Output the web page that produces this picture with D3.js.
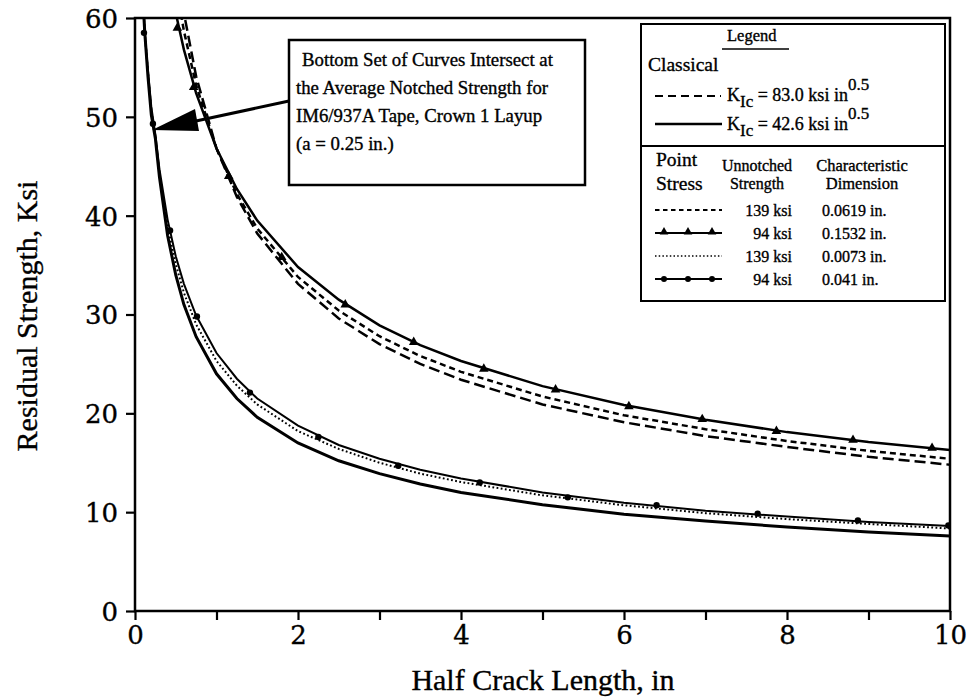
<!DOCTYPE html>
<html>
<head>
<meta charset="utf-8">
<script src="https://cdn.jsdelivr.net/npm/d3@7"></script>
<style>
  body { margin: 0; background: #fff; }
  text { font-family: "Liberation Serif", "Times New Roman", serif; fill: #000;
         stroke: #000; stroke-width: 0.35px; }
</style>
</head>
<body>
<div id="chart"></div>
<script>
// upper group (a in inches)
const crackA = [0.5, 0.6, 0.75, 1, 1.25, 1.5, 2, 2.5, 3, 3.5, 4, 5, 6, 7, 8, 9, 10];
const classical83 = [66.2, 60.5, 54.1, 46.8, 41.9, 38.2, 33.1, 29.6, 27.0, 25.0, 23.4, 20.9, 19.1, 17.7, 16.6, 15.6, 14.8];
const ps139a = [63.4, 58.7, 53.2, 46.8, 42.2, 38.7, 33.8, 30.4, 27.8, 25.8, 24.2, 21.7, 19.8, 18.4, 17.2, 16.2, 15.4];
const ps94a = [60.5, 56.8, 52.4, 46.8, 42.7, 39.5, 34.8, 31.5, 28.9, 26.9, 25.3, 22.75, 20.85, 19.35, 18.1, 17.1, 16.3];

// lower group
const crackB = [0.1, 0.12, 0.16, 0.2, 0.25, 0.3, 0.4, 0.5, 0.6, 0.75, 1, 1.25, 1.5, 2, 2.5, 3, 3.5, 4, 5, 6, 7, 8, 9, 10];
const classical426 = [61.5, 58.5, 54.0, 50.2, 47.8, 43.9, 38.0, 34.0, 31.0, 27.75, 24.0, 21.5, 19.6, 17.0, 15.2, 13.9, 12.85, 12.0, 10.75, 9.8, 9.1, 8.5, 8.0, 7.6];
const ps139b = [61.5, 58.5, 54.4, 50.6, 48.0, 44.2, 38.9, 35.1, 32.2, 29.0, 25.3, 22.8, 20.9, 18.2, 16.4, 15.0, 13.9, 13.05, 11.7, 10.7, 9.9, 9.3, 8.8, 8.35];
const ps94b = [61.5, 58.5, 54.6, 51.0, 48.2, 44.7, 39.6, 35.9, 33.1, 29.9, 26.1, 23.5, 21.5, 18.75, 16.8, 15.4, 14.3, 13.4, 12.0, 10.95, 10.15, 9.55, 9.0, 8.6];

// marker points
const triX = [0.52, 0.72, 1.15, 1.8, 2.58, 3.42, 4.28, 5.16, 6.06, 6.96, 7.87, 8.81, 9.78];
const triY = [59.0, 53.0, 44.0, 35.8, 31.0, 27.2, 24.5, 22.4, 20.7, 19.4, 18.2, 17.3, 16.5];
const dotX = [0.11, 0.22, 0.43, 0.76, 1.41, 2.25, 3.23, 4.23, 5.31, 6.4, 7.64, 8.87, 9.98];
const dotY = [58.5, 49.3, 38.5, 29.8, 22.1, 17.6, 14.7, 13.0, 11.5, 10.7, 9.85, 9.15, 8.65];

const xTicks = [0, 1, 2, 3, 4, 5, 6, 7, 8, 9, 10];
const xLabels = [0, 2, 4, 6, 8, 10];
const yTicks = [0, 10, 20, 30, 40, 50, 60];

const noteLines = ["Bottom Set of Curves Intersect at", "the Average Notched Strength for",
  "IM6/937A Tape, Crown 1 Layup", "(a = 0.25 in.)"];

const width = 969, height = 698;
const plotL = 135, plotR = 950, plotT = 18, plotB = 611;

const svg = d3.select("#chart").append("svg")
  .attr("width", width).attr("height", height);

const x = d3.scaleLinear().domain([0, 10]).range([plotL, plotR]);
const y = d3.scaleLinear().domain([0, 60]).range([plotB, plotT]);

svg.append("clipPath").attr("id", "plot")
  .append("rect").attr("x", plotL).attr("y", plotT)
  .attr("width", plotR - plotL).attr("height", plotB - plotT);

let line = d3.line().x(d => x(d[0])).y(d => y(d[1]));

// curves
let curves = [
  {a: crackA, v: classical83, dash: "11,5", w: 2.5},
  {a: crackA, v: ps139a, dash: "6,4", w: 2.5},
  {a: crackA, v: ps94a, dash: null, w: 2.5},
  {a: crackB, v: classical426, dash: null, w: 3},
  {a: crackB, v: ps139b, dash: "1.8,2.4", w: 2},
  {a: crackB, v: ps94b, dash: null, w: 2}
];

let g = svg.append("g").attr("clip-path", "url(#plot)");
curves.forEach(c => {
  g.append("path")
    .datum(c.a.map((d, i) => [d, c.v[i]]))
    .attr("d", line)
    .attr("fill", "none")
    .attr("stroke", "#000")
    .attr("stroke-width", c.w)
    .attr("stroke-dasharray", c.dash);
});

g.selectAll(".tri")
  .data(triX.map((d, i) => [d, triY[i]]))
  .enter().append("path")
  .attr("transform", d => `translate(${x(d[0])},${y(d[1])})`)
  .attr("d", d3.symbol().type(d3.symbolTriangle).size(40))
  .attr("fill", "#000");

g.selectAll(".dot")
  .data(dotX.map((d, i) => [d, dotY[i]]))
  .enter().append("circle")
  .attr("cx", d => x(d[0])).attr("cy", d => y(d[1]))
  .attr("r", 3.2).attr("fill", "#000");

// axes
let xAxis = d3.axisBottom(x).tickValues(xTicks).tickSize(9)
  .tickFormat(d => xLabels.includes(d) ? d : "");
let yAxis = d3.axisLeft(y).tickValues(yTicks).tickSize(9);

let gx = svg.append("g").attr("transform", `translate(0,${plotB})`).call(xAxis);
let gy = svg.append("g").attr("transform", `translate(${plotL},0)`).call(yAxis);
[gx, gy].forEach(a => {
  a.attr("font-family", "DejaVu Serif").attr("font-size", 26);
  a.select(".domain").remove();
  a.selectAll("line").attr("stroke", "#000").attr("stroke-width", 2.2);
  a.selectAll("text").style("font-family", "DejaVu Serif").style("font-size", "26px");
});
gx.selectAll("text").attr("y", 12).attr("dy", "0.8em");
gy.selectAll("text").attr("x", -17).attr("dy", "0.36em");

// frame
svg.append("rect").attr("x", plotL).attr("y", plotT)
  .attr("width", plotR - plotL).attr("height", plotB - plotT)
  .attr("fill", "none").attr("stroke", "#000").attr("stroke-width", 2.5);

svg.append("text").attr("x", 543).attr("y", 690)
  .attr("text-anchor", "middle").style("font-size", "30px")
  .text("Half Crack Length, in");

svg.append("text").attr("transform", "translate(37,316) rotate(-90)")
  .attr("text-anchor", "middle").style("font-size", "30px")
  .text("Residual Strength, Ksi");

// annotation box and arrow
svg.append("rect").attr("x", 289).attr("y", 40).attr("width", 296).attr("height", 145)
  .attr("fill", "#fff").attr("stroke", "#000").attr("stroke-width", 2.5);
noteLines.forEach((t, i) => {
  svg.append("text").attr("x", i == 0 ? 302 : 296).attr("y", 66 + i * 28)
    .style("font-size", "18.8px").text(t);
});
svg.append("line").attr("x1", 289).attr("y1", 101).attr("x2", 196).attr("y2", 121)
  .attr("stroke", "#000").attr("stroke-width", 3);
svg.append("path").attr("d", "M152,130 L195,109 L199,131 Z").attr("fill", "#000");

// legend
let lg = svg.append("g");
lg.append("rect").attr("x", 641).attr("y", 24).attr("width", 304).attr("height", 277)
  .attr("fill", "#fff").attr("stroke", "#000").attr("stroke-width", 2);
lg.append("line").attr("x1", 641).attr("x2", 945).attr("y1", 146).attr("y2", 146)
  .attr("stroke", "#000").attr("stroke-width", 2);
lg.append("text").attr("x", 727).attr("y", 41)
  .style("font-size", "16.5px").text("Legend");
lg.append("line").attr("x1", 722).attr("x2", 789).attr("y1", 49).attr("y2", 49)
  .attr("stroke", "#000").attr("stroke-width", 1.5);
lg.append("text").attr("x", 648).attr("y", 71).style("font-size", "19.5px").text("Classical");

function kLabel(yy, val) {
  let t = lg.append("text").attr("x", 727).attr("y", yy).style("font-size", "18px");
  t.append("tspan").text("K");
  t.append("tspan").attr("dy", 6).style("font-size", "17px").text("Ic");
  t.append("tspan").attr("dy", -6).text(` = ${val} ksi in`);
  t.append("tspan").attr("dy", -11).style("font-size", "17px").text("0.5");
}
lg.append("line").attr("x1", 655).attr("x2", 721).attr("y1", 96).attr("y2", 96)
  .attr("stroke", "#000").attr("stroke-width", 2.2).attr("stroke-dasharray", "8,5");
kLabel(101, "83.0");
lg.append("line").attr("x1", 655).attr("x2", 722).attr("y1", 124).attr("y2", 124)
  .attr("stroke", "#000").attr("stroke-width", 2.6);
kLabel(130, "42.6");

lg.append("text").attr("x", 656).attr("y", 166).style("font-size", "19.5px").text("Point");
lg.append("text").attr("x", 656).attr("y", 190).style("font-size", "19.5px").text("Stress");
lg.append("text").attr("x", 757).attr("y", 171).attr("text-anchor", "middle")
  .style("font-size", "16px").text("Unnotched");
lg.append("text").attr("x", 757).attr("y", 189).attr("text-anchor", "middle")
  .style("font-size", "16px").text("Strength");
lg.append("text").attr("x", 862).attr("y", 171).attr("text-anchor", "middle")
  .style("font-size", "16.5px").text("Characteristic");
lg.append("text").attr("x", 862).attr("y", 189).attr("text-anchor", "middle")
  .style("font-size", "16.5px").text("Dimension");

const legStrength = ["139 ksi", "94 ksi", "139 ksi", "94 ksi"];
const legDim = ["0.0619 in.", "0.1532 in.", "0.0073 in.", "0.041 in."];
const legStyle = [
  {dash: "4.5,3.5", w: 2, mark: null},
  {dash: null, w: 2.2, mark: "tri"},
  {dash: "1.5,2.2", w: 1.7, mark: null},
  {dash: null, w: 2.2, mark: "dot"}
];
legStyle.forEach((s, i) => {
  let yy = 210 + i * 23;
  lg.append("line").attr("x1", 655).attr("x2", 722).attr("y1", yy).attr("y2", yy)
    .attr("stroke", "#000").attr("stroke-width", s.w).attr("stroke-dasharray", s.dash);
  [664, 688, 712].forEach(xx => {
    if (s.mark == "tri") lg.append("path").attr("transform", `translate(${xx},${yy - 1})`)
      .attr("d", d3.symbol().type(d3.symbolTriangle).size(32)).attr("fill", "#000");
    if (s.mark == "dot") lg.append("circle").attr("cx", xx).attr("cy", yy).attr("r", 3)
      .attr("fill", "#000");
  });
  lg.append("text").attr("x", 792).attr("y", yy + 6).attr("text-anchor", "end")
    .style("font-size", "16px").text(legStrength[i]);
  lg.append("text").attr("x", 822).attr("y", yy + 6)
    .style("font-size", "16px").text(legDim[i]);
});
</script>
</body>
</html>
